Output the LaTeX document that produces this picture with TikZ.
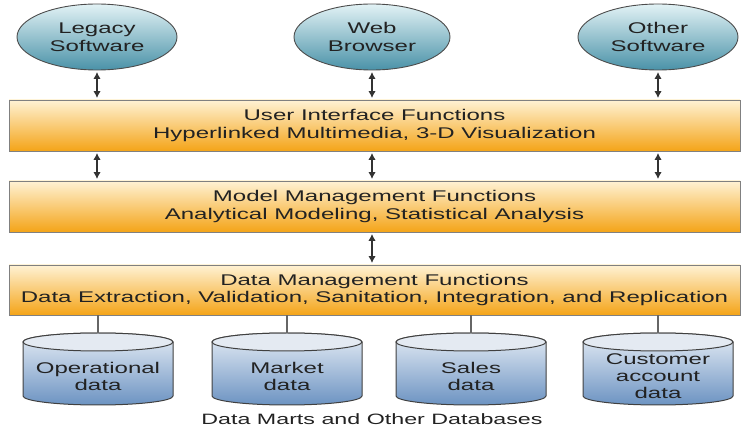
\documentclass[tikz,border=0pt]{standalone}
\usepackage{fontspec}
\setmainfont{Liberation Sans}[FakeStretch=1.55]
\usetikzlibrary{arrows.meta,shapes.geometric}
\definecolor{ellT}{HTML}{E2F2F5}
\definecolor{ellB}{HTML}{4A92A8}
\definecolor{bandT}{HTML}{FFF2D4}
\definecolor{bandB}{HTML}{F4A418}
\definecolor{cylT}{HTML}{E6EDF5}
\definecolor{cylB}{HTML}{6C93C2}
\definecolor{cylTop}{HTML}{E4EAF2}
\definecolor{txt}{HTML}{222222}
\begin{document}
\begin{tikzpicture}[x=1pt,y=-1pt,
  every node/.style={text=txt},
  ell/.style={ellipse, draw=black!70, line width=0.9pt, minimum width=160pt,
    minimum height=66pt, inner sep=0pt, top color=ellT, bottom color=ellB,
    align=center, font=\fontsize{15.5}{17.5}\selectfont},
  band/.style={rectangle, draw=black!50, line width=0.8pt, minimum width=731pt,
    minimum height=51pt, top color=bandT, bottom color=bandB, align=center,
    font=\fontsize{15.5}{17.5}\selectfont},
  biarrow/.style={{Latex[length=7pt,width=7.5pt]}-{Latex[length=7pt,width=7.5pt]},
    line width=1.6pt, draw=black!80, shorten <=1.5pt, shorten >=1.5pt},
  link/.style={draw=black!60, line width=1.1pt},
  cylbody/.style={top color=cylT, bottom color=cylB, draw=black!75, line width=1pt},
  cyltext/.style={align=center, font=\fontsize{15.5}{17}\selectfont},
  caption/.style={font=\fontsize{15}{17}\selectfont}
]
\useasboundingbox (0,0) rectangle (748,430);

% top ellipses
\node[ell] (leg) at (97,37) {Legacy\\Software};
\node[ell, minimum width=156pt] (web) at (372,37) {Web\\Browser};
\node[ell] (oth) at (658,37) {Other\\Software};

% bands
\node[band] (ui) at (374.5,125.5) {User Interface Functions\\Hyperlinked Multimedia, 3-D Visualization};
\node[band] (mm) at (374.5,206.5) {Model Management Functions\\Analytical Modeling, Statistical Analysis};
\node[band, minimum height=50pt] (dm) at (374.5,290) {Data Management Functions\\Data Extraction, Validation, Sanitation, Integration, and Replication};

% arrows
\draw[biarrow] (leg.south) -- (leg.south |- ui.north);
\draw[biarrow] (web.south) -- (web.south |- ui.north);
\draw[biarrow] (oth.south) -- (oth.south |- ui.north);
\draw[biarrow] (ui.south -| leg.south) -- (mm.north -| leg.south);
\draw[biarrow] (ui.south -| web.south) -- (mm.north -| web.south);
\draw[biarrow] (ui.south -| oth.south) -- (mm.north -| oth.south);
\draw[biarrow] (mm.south -| web.south) -- (dm.north -| web.south);

% cylinders
\foreach \nm/\cx/\txt in {op/98/{Operational\\data}, mk/287/{Market\\data},
    sl/471/{Sales\\data}, cu/658/{Customer\\account\\data}}{
  \shade[cylbody] (\cx-75,342) -- (\cx-75,396)
    arc[start angle=180, end angle=0, x radius=75, y radius=9]
    -- (\cx+75,342)
    arc[start angle=0, end angle=-180, x radius=75, y radius=9] -- cycle;
  \draw[fill=cylTop, draw=black!75, line width=1pt] (\cx,342) ellipse [x radius=75, y radius=9];
  \coordinate (\nm top) at (\cx,333);
  \node[cyltext] (\nm) at (\cx,376) {\txt};
  \draw[link] (dm.south -| \nm top) -- (\nm top);
}

\node[caption] (cap) at (372,419) {Data Marts and Other Databases};
\end{tikzpicture}
\end{document}
